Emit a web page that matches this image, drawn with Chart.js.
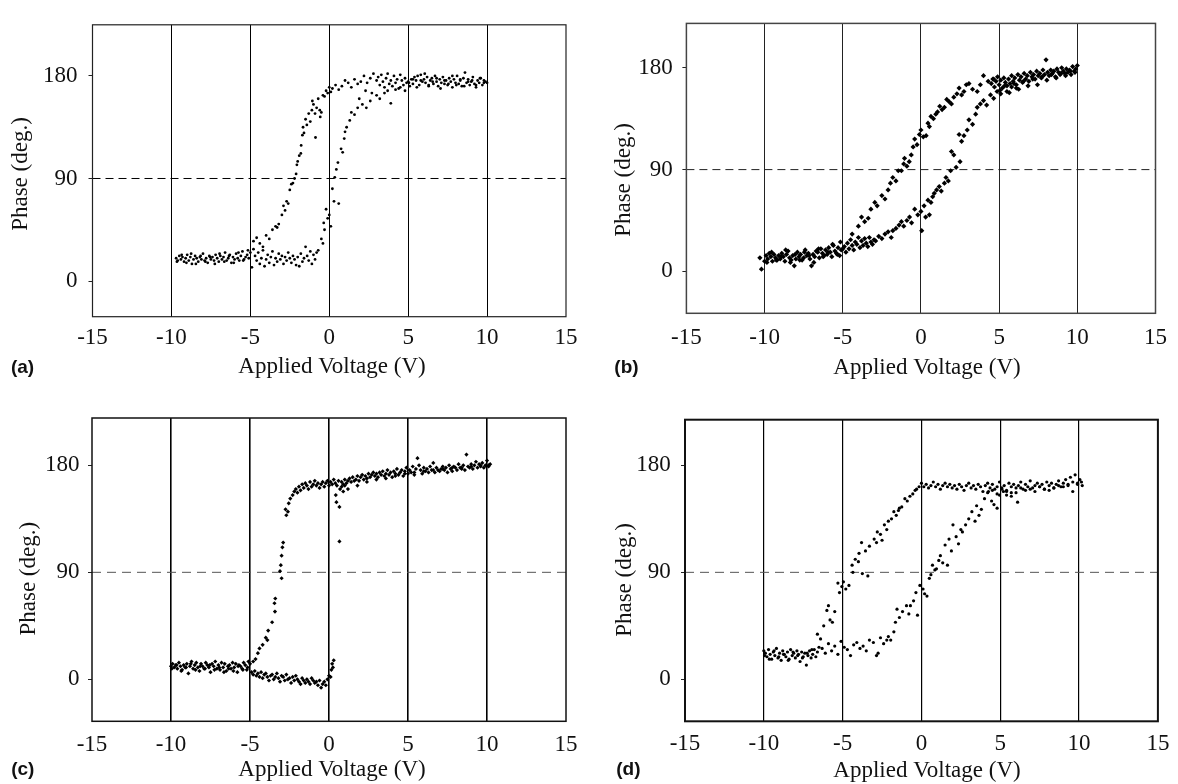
<!DOCTYPE html>
<html>
<head>
<meta charset="utf-8">
<title>Phase vs applied voltage</title>
<script src="https://cdn.jsdelivr.net/npm/chart.js@4.4.0/dist/chart.umd.min.js"></script>
<style>
  html, body { margin: 0; padding: 0; background: #fff; }
  #wrap { position: relative; width: 1178px; height: 784px; overflow: hidden; }
  .panel { position: absolute; width: 589px; height: 392px; }
</style>
</head>
<body>
<div id="wrap">
  <div class="panel" style="left:0;top:0"><canvas id="chartA" width="589" height="392"></canvas></div>
  <div class="panel" style="left:589px;top:0"><canvas id="chartB" width="589" height="392"></canvas></div>
  <div class="panel" style="left:0;top:392px"><canvas id="chartC" width="589" height="392"></canvas></div>
  <div class="panel" style="left:589px;top:392px"><canvas id="chartD" width="589" height="392"></canvas></div>
</div>
<script>
// Axis ticks shared by all four panels
const voltTicks = [-15, -10, -5, 0, 5, 10, 15];
const phaseTicks = [0, 90, 180];
const gridVolts = [-10, -5, 0, 5, 10];
// dashed reference line at 90 deg
const refVolt = [-15, 15];
const refPhase = [90, 90];

// (a), point by point
const aVolt = [
  -9.7,-9.6,-9.5,-9.4,-9.3,-9.2,-9.1,-9.0,-8.9,-8.8,-8.7,-8.6,-8.5,-8.4,-8.3,-8.2,-8.1,-8.0,-7.9,-7.8,-7.7,-7.6,-7.5,-7.4,
  -7.3,-7.2,-7.1,-7.0,-6.9,-6.8,-6.7,-6.6,-6.5,-6.4,-6.3,-6.2,-6.1,-6.0,-5.9,-5.8,-5.7,-5.6,-5.5,-5.4,-5.3,-5.2,-5.1,-5.0,
  -9.65,-9.35,-9.05,-8.75,-8.45,-8.15,-7.85,-7.55,-7.25,-6.95,-6.65,-6.35,-6.05,-5.75,-5.45,-5.15,
  -4.9,-4.8,-4.7,-4.6,-4.5,-4.4,-4.3,-4.2,-4.1,-4.0,-3.9,-3.8,-3.7,-3.6,-3.5,-3.4,-3.3,-3.2,-3.1,-3.0,-2.9,-2.8,
  -2.7,-2.6,-2.5,-2.4,-2.3,-2.2,-2.1,-2.0,-1.9,-1.8,-1.7,-1.6,-1.5,-1.4,-1.3,-1.2,-1.1,-1.0,-0.9,-0.8,-0.7,
  -4.8,-4.6,-4.4,-4.2,-4.0,-3.8,-3.6,-3.4,-3.3,-3.2,-3.0,-2.9,-2.8,-2.7,-2.6,-2.5,-2.4,-2.3,-2.2,-2.1,-2.05,-2.0,-1.9,
  -1.8,-1.78,-1.7,-1.66,-1.6,-1.5,-1.42,-1.3,-1.2,-1.1,-1.07,-1.0,-0.9,-0.87,-0.8,-0.7,-0.6,-0.57,-0.5,-0.4,-0.3,-0.2,
  -0.1,0.0,0.1,0.2,0.4,0.6,0.8,1.0,1.2,1.4,1.6,1.8,2.0,2.2,2.4,2.6,2.8,3.0,
  -0.5,-0.4,-0.35,-0.3,-0.2,-0.1,0.0,0.1,0.2,0.3,0.35,0.45,0.55,0.6,0.75,0.85,0.95,1.0,1.1,1.3,1.4,1.6,1.8,1.9,2.1,
  2.3,2.35,2.6,2.7,3.0,3.2,3.5,3.7,3.9,4.2,4.5,4.8,
  3.1,3.2,3.3,3.4,3.5,3.6,3.7,3.8,3.9,4.0,4.1,4.2,4.3,4.4,4.5,4.6,4.7,4.8,4.9,5.0,5.1,5.2,5.3,5.4,5.5,5.6,5.7,5.8,
  5.9,6.0,6.1,6.2,6.3,6.4,6.5,6.6,6.7,6.8,6.9,7.0,7.1,7.2,7.3,7.4,7.5,7.6,7.7,7.8,7.9,8.0,8.1,8.2,8.3,8.4,8.5,8.6,
  8.7,8.8,8.9,9.0,9.1,9.2,9.3,9.4,9.5,9.6,9.7,9.8,9.9,10.0,
  5.05,5.3,5.55,5.8,6.05,6.3,6.55,6.8,7.05,7.3,7.55,7.8,8.05,8.3,8.55,8.8,9.05,9.3,9.55,9.8
];
const aPhase = [
  20,18,22,19,21,17,20,23,18,21,15,19,22,20,17,21,19,24,18,20,16,22,19,21,
  18,23,20,17,22,19,21,25,18,20,23,16,21,19,24,20,18,22,26,19,21,23,20,25,
  17,23,16,24,15,22,17,21,15,24,17,22,16,25,18,27,
  12,28,22,18,25,15,20,27,13,19,23,16,21,26,14,20,17,24,19,22,15,21,
  18,25,20,16,22,19,14,21,13,24,17,20,30,22,18,26,15,23,19,25,27,
  35,38,33,30,40,37,45,48,47,50,58,66,62,70,68,80,85,86,90,94,102,105,110,
  112,119,128,135,130,142,137,147,140,150,158,155,147,126,152,160,150,144,148,163,162,167,
  165,170,166,169,172,168,171,176,174,170,177,173,175,180,174,178,182,176,
  37,33,51,45,63,55,58,48,81,70,91,98,104,68,116,113,125,131,135,141,148,146,152,160,155,
  167,152,158,165,163,160,165,167,156,168,170,167,
  179,172,181,175,170,178,182,173,176,171,180,174,177,169,181,176,172,178,174,175,171,177,173,179,176,180,172,181,
  175,177,174,179,172,176,178,173,180,175,171,177,174,179,173,176,172,178,175,170,177,174,180,173,176,171,178,183,
  174,177,172,175,179,173,170,176,174,178,172,176,175,174,
  174,177,170,176,182,171,175,178,169,176,173,180,172,177,171,175,176,172,178,174
];

// (b)
const bVolt = [
  -10.3,-10.2,-10.0,-9.9,-9.8,-9.7,-9.6,-9.5,-9.4,-9.3,-9.2,-9.1,-9.0,-8.9,-8.8,-8.7,-8.6,-8.5,-8.4,-8.3,-8.2,-8.1,
  -8.0,-7.9,-7.8,-7.7,-7.6,-7.5,-7.4,-7.3,-7.2,-7.1,-7.0,-6.9,-6.8,-6.7,-6.6,-6.5,-6.4,-6.3,-6.2,-6.1,-6.0,-5.9,
  -5.8,-5.7,-5.6,-5.5,-5.4,-5.3,-5.2,-5.1,-5.0,
  -9.85,-9.55,-9.25,-8.95,-8.65,-8.35,-8.05,-7.75,-7.45,-7.15,-6.85,-6.55,-6.25,-5.95,-5.65,-5.35,-5.15,
  -4.9,-4.8,-4.7,-4.6,-4.5,-4.4,-4.3,-4.2,-4.1,-4.0,-3.9,-3.8,-3.7,-3.6,-3.5,-3.4,-3.3,-3.2,-3.1,-3.0,
  -4.4,-4.0,-3.8,-3.6,-3.37,-3.2,-2.95,-2.8,-2.5,-2.3,-2.1,-1.95,-1.8,-1.6,-1.45,-1.25,-1.1,-1.05,-0.9,-0.75,
  -0.62,-0.5,-0.4,-0.25,-0.1,0.0,0.15,0.33,0.45,0.54,0.64,0.8,0.95,1.06,1.2,1.35,1.5,1.65,1.8,1.95,
  2.1,2.3,2.44,2.6,2.75,2.9,3.07,3.3,3.6,3.8,4.0,4.3,4.65,
  -2.9,-2.7,-2.5,-2.3,-2.1,-1.9,-1.8,-1.6,-1.4,-1.25,-1.1,-0.9,-0.73,-0.6,-0.4,-0.2,0.0,0.05,0.2,0.3,
  0.45,0.54,0.64,0.75,0.85,1.0,1.17,1.3,1.5,1.6,1.75,1.9,1.95,2.1,2.25,2.44,2.5,2.6,2.75,2.96,
  3.07,3.3,3.5,3.6,3.8,4.0,4.2,4.45,4.65,4.87,5.1,5.5,5.8,6.1,
  4.5,4.6,4.7,4.8,4.9,5.0,5.1,5.2,5.3,5.4,5.5,5.6,5.7,5.8,5.9,6.0,6.1,6.2,6.3,6.4,6.5,6.6,6.7,6.8,6.9,7.0,7.1,7.2,
  7.3,7.4,7.5,7.6,7.7,7.8,7.9,8.0,8.1,8.2,8.3,8.4,8.5,8.6,8.7,8.8,8.9,9.0,9.1,9.2,9.3,9.4,9.5,9.6,9.7,9.8,9.9,10.0,
  5.05,5.35,5.65,5.95,6.25,6.55,6.85,7.15,7.45,7.75,8.05,8.35,8.65,8.95,9.25,9.55,9.85
];
const bPhase = [
  12,2,9,14,11,16,13,9,15,12,10,14,11,16,13,9,15,18,12,10,14,5,
  11,17,13,15,10,12,19,14,16,11,5,15,13,18,17,12,20,16,14,19,15,21,
  17,13,23,18,16,21,14,19,20,
  8,17,10,13,19,8,15,10,17,14,8,20,13,17,24,15,26,
  22,17,25,20,28,23,19,26,24,30,21,27,23,29,25,22,30,26,24,28,
  33,40,48,44,47,55,61,58,67,64,72,78,83,80,89,89,95,100,93,97,
  103,110,117,112,121,125,119,120,131,128,137,135,139,141,146,143,145,152,150,148,
  154,157,162,156,159,165,166,161,159,165,173,168,170,
  27,31,29,33,35,30,36,38,41,44,40,45,48,43,55,50,53,36,58,48,
  63,50,61,66,69,72,75,71,78,83,80,89,106,103,92,121,97,115,120,125,
  134,130,139,145,148,151,147,156,153,159,157,159,163,162,
  166,170,163,168,172,165,169,162,171,167,164,170,166,173,168,171,165,174,169,172,167,175,170,173,168,176,172,174,
  170,177,173,175,171,178,174,187,176,173,178,175,177,172,179,176,174,180,177,175,179,176,178,174,181,177,179,182,
  160,164,158,166,161,168,164,170,165,172,169,174,171,175,173,177,176
];

// (c)
const cVolt = [
  -10.0,-9.9,-9.8,-9.7,-9.6,-9.5,-9.4,-9.3,-9.2,-9.1,-9.0,-8.9,-8.8,-8.7,-8.6,-8.5,-8.4,-8.3,-8.2,-8.1,-8.0,-7.9,
  -7.8,-7.7,-7.6,-7.5,-7.4,-7.3,-7.2,-7.1,-7.0,-6.9,-6.8,-6.7,-6.6,-6.5,-6.4,-6.3,-6.2,-6.1,-6.0,-5.9,-5.8,-5.7,
  -5.6,-5.5,-5.4,-5.3,-5.2,-5.1,-5.0,
  -9.95,-9.65,-9.35,-9.05,-8.75,-8.45,-8.15,-7.85,-7.55,-7.25,-6.95,-6.65,-6.35,-6.05,-5.75,-5.45,-5.15,
  -4.9,-4.8,-4.7,-4.6,-4.5,-4.4,-4.3,-4.2,-4.1,-4.0,-3.9,-3.8,-3.7,-3.6,-3.5,-3.4,-3.3,-3.2,-3.1,-3.0,-2.9,-2.8,
  -2.7,-2.6,-2.5,-2.4,-2.3,-2.2,-2.1,-2.0,-1.9,-1.8,-1.7,-1.6,-1.5,-1.4,-1.3,-1.2,-1.1,-1.0,-0.9,-0.8,-0.7,-0.6,
  -0.5,-0.4,-0.3,-0.2,-0.1,0.0,0.1,0.15,0.2,0.25,0.3,
  0.43,0.47,0.66,0.66,0.8,0.9,1.0,
  -2.3,-2.2,-2.1,-2.0,-1.9,-1.8,-1.7,-1.6,-1.5,-1.4,-1.3,-1.2,-1.1,-1.0,-0.9,-0.8,-0.7,-0.6,-0.5,-0.4,-0.3,-0.2,
  -0.1,0.0,0.1,0.2,0.3,0.4,0.5,0.6,0.7,0.8,0.9,1.0,1.1,1.2,1.3,1.4,1.5,1.6,1.7,1.8,1.9,2.0,2.1,2.2,2.3,2.4,2.5,2.6,
  2.7,2.8,2.9,3.0,
  3.1,3.2,3.3,3.4,3.5,3.6,3.7,3.8,3.9,4.0,4.1,4.2,4.3,4.4,4.5,4.6,4.7,4.8,4.9,5.0,5.1,5.2,5.3,5.4,5.5,5.6,5.7,5.8,
  5.9,6.0,6.1,6.2,6.3,6.4,6.5,6.6,6.7,6.8,6.9,7.0,7.1,7.2,7.3,7.4,7.5,7.6,7.7,7.8,7.9,8.0,8.1,8.2,8.3,8.4,8.5,8.6,
  8.7,8.8,8.9,9.0,9.1,9.2,9.3,9.4,9.5,9.6,9.7,9.8,9.9,10.0,10.1,10.2,
  1.2,1.8,2.4,3.0,3.6,4.2,4.8,5.4,6.0,6.6,7.2,7.8,8.4,9.0,9.6,10.1,
  -2.45,-2.55,-2.6,-2.7,-2.75,-2.9,-2.95,-3.0,-3.05,-3.0,-3.1,-3.4,-3.45,-3.42,-3.6,-3.85,-3.9,-4.0,-4.2,-4.4,
  -4.5,-4.65,-4.8
];
const cPhase = [
  11,13,10,12,9,14,11,8,12,10,13,5,11,15,9,12,14,10,7,13,11,9,
  14,12,10,6,13,11,15,9,12,8,14,10,13,7,11,12,9,14,10,13,6,12,
  11,9,14,12,8,15,13,
  9,12,7,10,13,8,11,9,12,8,10,6,9,7,11,8,10,
  6,4,7,3,5,2,6,1,4,5,2,-1,3,4,0,2,5,1,-2,3,2,-1,
  4,0,1,-3,2,-1,3,0,-2,-4,1,-1,-3,0,-2,-4,1,-1,-3,-2,-5,-1,
  -7,-4,-2,-5,0,3,2,8,13,10,16,
  155,149,145,116,162,158,163,
  155,158,160,157,162,159,164,161,165,163,160,166,162,164,167,163,165,161,164,166,162,165,
  167,163,166,164,168,165,163,167,160,166,164,168,165,167,169,166,170,167,168,171,167,170,172,168,171,169,173,170,
  172,174,171,173,
  170,174,172,175,171,173,176,172,174,170,175,173,177,172,174,176,171,175,178,173,176,174,179,172,177,186,180,176,
  173,178,175,177,174,179,176,182,174,178,176,175,177,179,176,178,174,180,177,175,179,178,176,181,178,177,180,176,
  189,179,178,181,177,180,183,178,181,179,182,178,180,184,180,181,
  160,163,166,168,169,171,173,174,175,176,177,178,178,179,180,179,
  152,148,141,138,143,115,111,104,96,85,91,68,64,57,48,41,33,35,29,26,
  22,17,15
];

// (d)
const dVolt = [
  -10.0,-9.9,-9.8,-9.7,-9.6,-9.5,-9.4,-9.3,-9.2,-9.1,-9.0,-8.9,-8.8,-8.7,-8.6,-8.5,-8.4,-8.3,-8.2,-8.1,-8.0,-7.9,
  -7.8,-7.7,-7.6,-7.5,-7.4,-7.3,-7.2,-7.1,-7.0,-6.9,-6.8,-6.7,-6.6,-6.5,
  -9.95,-9.65,-9.35,-9.05,-8.75,-8.45,-8.15,-7.85,-7.55,-7.25,-6.95,
  -6.3,-6.1,-5.9,-5.7,-5.5,-5.3,-5.1,-4.9,-4.7,-4.5,-4.3,-4.1,-3.9,-3.7,-3.5,-3.3,-3.05,-2.85,-2.75,-2.6,
  -2.4,-2.2,-2.1,-1.95,-1.75,-1.65,-1.55,-1.4,-1.2,-0.95,-0.8,-0.7,-0.5,-0.35,-0.25,-0.1,0.1,0.2,0.35,0.5,
  0.6,0.7,0.85,0.95,1.1,1.2,1.35,1.5,1.65,1.75,1.9,2.0,2.2,2.35,2.5,2.6,2.8,3.0,3.2,3.4,
  3.5,3.65,3.8,4.0,4.25,4.45,4.6,4.8,4.95,5.2,5.4,5.7,6.1,
  -6.6,-6.4,-6.2,-6.0,-5.9,-5.8,-5.65,-5.5,-5.3,-5.2,-5.05,-4.95,-4.8,-4.6,-4.4,-4.35,-4.2,-4.0,-3.96,-3.8,
  -3.75,-3.55,-3.4,-3.3,-3.0,-2.85,-2.8,-2.6,-2.5,-2.35,-2.2,-2.1,-1.9,-1.75,-1.6,-1.46,-1.4,-1.25,-1.05,-0.9,
  -0.73,-0.55,-0.4,-0.31,-0.15,
  0.0,0.15,0.3,0.45,0.6,0.75,0.9,1.05,1.2,1.35,1.5,1.65,1.8,1.95,2.1,2.25,2.4,2.55,2.7,2.85,3.0,3.15,3.3,3.45,
  3.6,3.75,3.9,4.05,4.2,4.35,4.5,4.65,4.8,4.95,5.1,5.25,5.4,5.55,5.7,5.85,6.0,6.15,6.3,6.45,6.6,6.75,6.9,7.05,
  7.2,7.35,7.5,7.65,7.8,7.95,8.1,8.25,8.4,8.55,8.7,8.85,9.0,9.15,9.3,9.45,9.6,9.75,9.9,10.05,10.2,
  4.2,4.5,4.8,5.1,5.4,5.7,6.0,6.3,6.6,6.9,7.2,7.5,7.8,8.1,8.4,8.7,9.0,9.3,9.6,9.9,10.15
];
const dPhase = [
  24,22,19,25,21,17,23,20,26,18,22,16,24,21,19,23,17,25,20,22,18,24,
  21,15,23,19,22,12,20,24,18,21,25,19,23,27,
  20,17,24,19,21,16,23,20,18,22,25,
  26,22,30,24,28,21,32,27,25,20,29,31,26,28,24,33,31,20,22,35,
  30,33,36,33,40,48,59,52,57,62,55,62,66,73,54,79,76,72,70,85,
  88,96,92,93,100,104,98,113,96,118,108,130,120,114,126,124,130,135,141,133,
  146,138,143,152,158,150,147,144,155,158,155,157,149,
  38,34,45,58,62,50,48,57,81,73,78,82,76,79,96,90,101,99,106,115,
  89,108,87,112,118,115,124,122,117,130,126,133,135,141,138,142,144,145,152,150,
  154,156,159,160,162,
  165,162,164,161,163,166,162,164,160,163,165,162,164,161,163,160,164,162,159,163,165,161,163,160,
  164,162,158,163,165,161,164,160,162,166,161,163,159,165,162,164,161,163,166,160,164,162,167,161,
  163,165,162,164,160,166,163,165,161,164,167,162,165,168,163,170,166,172,164,168,163,
  157,159,156,160,158,154,157,161,159,160,158,162,160,159,161,163,162,164,158,165,166
];

const W = 589, H = 392;
const tickFont = { family: '"Liberation Serif", "Times New Roman", serif', size: 23 };

function makePanel(id, cfg) {
  const points = cfg.volt.map((v, i) => ({ x: v, y: cfg.phase[i] }));
  const refLine = refVolt.map((v, i) => ({ x: v, y: refPhase[i] }));

  // frame around the plot area, plus axis titles and the panel letter
  const panelDecor = {
    id: 'panelDecor',
    afterDraw(chart) {
      const { ctx, chartArea } = chart;
      const { left, top, right, bottom } = chartArea;
      ctx.save();
      ctx.strokeStyle = cfg.frameColor;
      ctx.lineWidth = cfg.frameWidth;
      ctx.strokeRect(left, top, right - left, bottom - top);

      ctx.fillStyle = '#111';
      ctx.font = '23px "Liberation Serif", "Times New Roman", serif';
      ctx.textAlign = 'center';
      ctx.textBaseline = 'middle';
      ctx.fillText('Applied Voltage (V)', cfg.xTitle[0], cfg.xTitle[1]);

      ctx.save();
      ctx.translate(cfg.yTitle[0], cfg.yTitle[1]);
      ctx.rotate(-Math.PI / 2);
      ctx.fillText('Phase (deg.)', 0, 0);
      ctx.restore();

      ctx.font = 'bold 19px "Liberation Sans", Arial, sans-serif';
      ctx.fillText(cfg.tag, cfg.tagPos[0], cfg.tagPos[1]);
      ctx.restore();
    }
  };

  return new Chart(document.getElementById(id), {
    type: 'scatter',
    data: {
      datasets: [
        {
          data: points,
          pointStyle: cfg.dotStyle,
          pointRadius: cfg.dotSize,
          backgroundColor: '#000',
          borderWidth: 0,
          order: 1
        },
        {
          type: 'line',
          data: refLine,
          showLine: true,
          borderColor: cfg.dashColor,
          borderWidth: 1,
          borderDash: cfg.dash,
          pointRadius: 0,
          fill: false,
          order: 2
        }
      ]
    },
    options: {
      responsive: false,
      animation: false,
      events: [],
      layout: {
        padding: { left: 0, top: cfg.box.top, right: W - cfg.box.right, bottom: 0 }
      },
      plugins: {
        legend: { display: false },
        tooltip: { enabled: false }
      },
      scales: {
        x: {
          type: 'linear',
          min: -15,
          max: 15,
          afterBuildTicks: (s) => { s.ticks = voltTicks.map(v => ({ value: v })); },
          afterFit: (s) => { s.height = H - cfg.box.bottom; },
          border: { display: false },
          grid: {
            drawTicks: false,
            lineWidth: cfg.gridWidth,
            color: (c) => (c.tick && gridVolts.includes(c.tick.value)) ? cfg.gridColor : 'rgba(0,0,0,0)'
          },
          ticks: {
            padding: cfg.xPad,
            color: '#111',
            font: tickFont,
            maxRotation: 0,
            autoSkip: false,
            callback: (v) => String(v)
          }
        },
        y: {
          min: cfg.yMin,
          max: cfg.yMax,
          afterBuildTicks: (s) => { s.ticks = phaseTicks.map(v => ({ value: v })); },
          afterFit: (s) => { s.width = cfg.box.left; },
          border: { display: false },
          grid: {
            drawOnChartArea: false,
            drawTicks: true,
            tickLength: 4,
            color: '#222'
          },
          ticks: {
            padding: cfg.yPad,
            color: '#111',
            font: tickFont,
            callback: (v) => String(v)
          }
        }
      }
    },
    plugins: [panelDecor]
  });
}

makePanel('chartA', {
  volt: aVolt, phase: aPhase, tag: '(a)',
  box: { left: 92.5, right: 566, top: 10.7, bottom: 316.7 },
  yMin: -31.3, yMax: 224.9,
  xPad: 7.5, yPad: 11,
  dotStyle: 'circle', dotSize: 1.4,
  gridColor: '#000', gridWidth: 1, frameColor: '#222', frameWidth: 1.2,
  dashColor: '#000', dash: [8, 5],
  xTitle: [332, 367], yTitle: [21, 174], tagPos: [22.5, 368]
});

makePanel('chartB', {
  volt: bVolt, phase: bPhase, tag: '(b)',
  box: { left: 97.4, right: 571, top: 8.3, bottom: 313.3 },
  yMin: -37, yMax: 219.2,
  xPad: 11, yPad: 9.6,
  dotStyle: 'rectRot', dotSize: 2.6,
  gridColor: '#222', gridWidth: 1, frameColor: '#444', frameWidth: 1.5,
  dashColor: '#222', dash: [8, 5],
  xTitle: [338, 368], yTitle: [34.7, 180], tagPos: [37.5, 368]
});

makePanel('chartC', {
  volt: cVolt, phase: cPhase, tag: '(c)',
  box: { left: 92, right: 566, top: 26, bottom: 329.3 },
  yMin: -35.3, yMax: 219.8,
  xPad: 10, yPad: 8.4,
  dotStyle: 'rectRot', dotSize: 2.1,
  gridColor: '#000', gridWidth: 1.6, frameColor: '#111', frameWidth: 1.5,
  dashColor: '#555', dash: [9, 6],
  xTitle: [332, 378], yTitle: [28.5, 186.7], tagPos: [22.8, 378]
});

makePanel('chartD', {
  volt: dVolt, phase: dPhase, tag: '(d)',
  box: { left: 96, right: 572.9, top: 27.7, bottom: 329.3 },
  yMin: -35.3, yMax: 218.4,
  xPad: 8.6, yPad: 10.3,
  dotStyle: 'circle', dotSize: 1.6,
  gridColor: '#000', gridWidth: 1.2, frameColor: '#111', frameWidth: 2,
  dashColor: '#555', dash: [9, 6],
  xTitle: [338, 379], yTitle: [35.7, 188], tagPos: [39.4, 378]
});
</script>
</body>
</html>
